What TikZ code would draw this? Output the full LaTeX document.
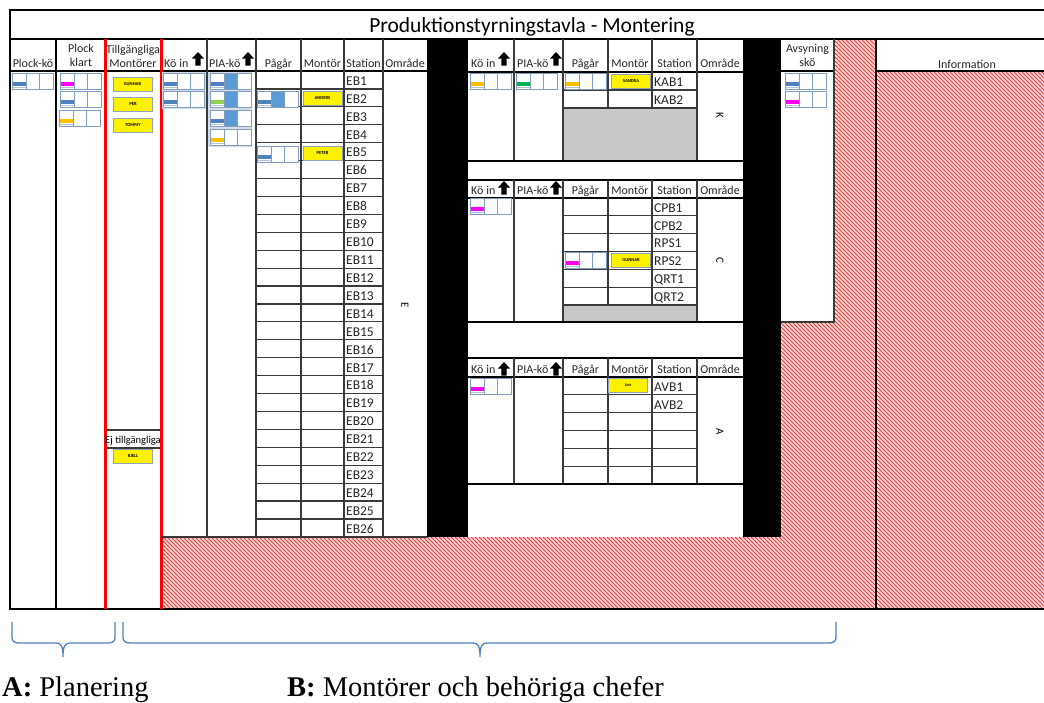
\documentclass[tikz,border=0pt]{standalone}
\usepackage{fontspec}
\newfontfamily\calfont{Carlito}
\newfontfamily\capfont{Liberation Serif}
\usetikzlibrary{patterns}

% fine red diagonal hatching for unused board areas
\pgfdeclarepatternformonly{redhatch}{\pgfqpoint{-1pt}{-1pt}}{\pgfqpoint{5pt}{5pt}}{\pgfqpoint{4pt}{4pt}}{%
  \pgfsetlinewidth{0.85pt}%
  \pgfpathmoveto{\pgfqpoint{-0.5pt}{4.5pt}}%
  \pgfpathlineto{\pgfqpoint{4.5pt}{-0.5pt}}%
  \pgfusepath{stroke}}

\definecolor{gridc}{HTML}{3A3A3A}
\definecolor{cardedge}{HTML}{7F9DBD}
\definecolor{cardblue}{HTML}{4F81BD}
\definecolor{midblue}{HTML}{5B9BD5}
\definecolor{barmag}{HTML}{FF00FF}
\definecolor{barorange}{HTML}{FFC000}
\definecolor{barlgreen}{HTML}{92D050}
\definecolor{bardgreen}{HTML}{00B050}
\definecolor{tagedge}{HTML}{8FA3B8}
\definecolor{greyarea}{HTML}{C8C8C8}
\definecolor{hatchbg}{HTML}{FFE2E2}
\definecolor{hatchred}{HTML}{F53A3A}
\definecolor{stackbg}{HTML}{D5DEE8}
\definecolor{bracec}{HTML}{4F81BD}

% queue card: x, y (top left), bar colour, middle cell fill
\newcommand\qcard[4]{%
  \fill[white] (#1,#2) rectangle (#1+41,#2+16);
  \fill[#4] (#1+14,#2) rectangle (#1+27,#2+16);
  \fill[#3] (#1+1,#2+8.5) rectangle (#1+14,#2+12.5);
  \draw[cardedge!60, line width=0.6] (#1+1,#2+14) -- (#1+14,#2+14);
  \draw[cardedge, line width=0.9] (#1,#2) rectangle (#1+41,#2+16)
    (#1+14,#2) -- (#1+14,#2+16) (#1+27,#2) -- (#1+27,#2+16);
}
% black block arrow: centre x, top y
\newcommand\uparr[2]{%
  \fill[black] (#1,#2) -- (#1+6,#2+6.5) -- (#1+2.6,#2+6.5) -- (#1+2.6,#2+13.5)
    -- (#1-2.6,#2+13.5) -- (#1-2.6,#2+6.5) -- (#1-6,#2+6.5) -- cycle;
}

\begin{document}
\begin{tikzpicture}[x=1pt,y=-1pt,
  grid/.style={draw=gridc, line width=1.2},
  heavy/.style={draw=black, line width=1.7},
  frame/.style={draw=black, line width=2.2},
  hatch/.style={fill=hatchbg, postaction={pattern=redhatch, pattern color=hatchred}},
  hdr/.style={font=\calfont\fontsize{12}{13}\selectfont, inner sep=0, anchor=base, text=black!85},
  hdrw/.style={hdr, anchor=base west},
  eb/.style={font=\calfont\fontsize{13.5}{14}\selectfont, inner sep=0, anchor=base west, text=black!85},
  area/.style={font=\calfont\fontsize{11}{12}\selectfont, inner sep=0, rotate=-90},
  tag/.style={draw=tagedge, fill=yellow, line width=1, minimum width=39pt, minimum height=14pt,
    inner sep=0, font=\calfont\fontsize{4.6}{5}\selectfont\bfseries},
  brace/.style={draw=bracec, line width=1.3},
  caption/.style={font=\capfont\fontsize{28.5}{30}\selectfont, inner sep=0, anchor=base west}]

\useasboundingbox (0,0) rectangle (1044,702);
\clip (0,0) rectangle (1044,702);

% ---- hatched unused areas
\path[hatch] (161,537) -- (781,537) -- (781,322) -- (834,322) -- (834,39)
  -- (876,39) -- (876,609) -- (161,609) -- cycle;
\path[hatch] (876,71) rectangle (1050,609);

% ---- black separator bands
\fill[black] (427,39) rectangle (468,537);
\fill[black] (743,39) rectangle (781,537);

% ---- grey unused station slots
\fill[greyarea] (563,108) rectangle (697,161);
\fill[greyarea] (563,305) rectangle (697,322);

% ---- outer frame and title row
\draw[frame] (1050,10) -- (10,10) -- (10,609) -- (1050,609);
\draw[frame] (10,39) -- (1050,39);
\node[font=\calfont\fontsize{21.5}{23}\selectfont, inner sep=0, anchor=base] (title) at (532,32)
  {Produktionstyrningstavla - Montering};

% ---- left planning columns
\draw[heavy] (10,71) -- (427,71);
\draw[draw=black, line width=1.2] (56,39) -- (56,609);
\draw[grid] (105,430) -- (161,430) (105,448) -- (161,448);
\draw[red, line width=3] (105,39) -- (105,609) (161,39) -- (161,609);

% ---- main EB table
\draw[grid] (207,39) -- (207,537) (256,39) -- (256,537) (301,39) -- (301,537)
  (344,39) -- (344,537) (383,39) -- (383,537) (161,537) -- (427,537);
\foreach \i in {1,...,25}
  \draw[grid] (256,{71+\i*17.92}) -- (383,{71+\i*17.92});
\foreach \i in {1,...,26}
  \node[eb] (eb\i) at (346,{71+(\i-1)*17.92+14.3}) {EB\i};

% ---- section K
\draw[heavy] (468,72) -- (743,72);
\draw[grid] (514,39) -- (514,161) (563,39) -- (563,161) (608,39) -- (608,108)
  (652,39) -- (652,108) (697,39) -- (697,161);
\draw[grid] (563,90) -- (697,90) (563,108) -- (697,108);
\draw[heavy] (468,161) -- (743,161);
\node[eb] (kab1) at (654,86) {KAB1};
\node[eb] (kab2) at (654,104) {KAB2};

% ---- section C
\draw[heavy] (468,180) -- (743,180);
\draw[heavy] (468,198) -- (743,198);
\draw[grid] (514,180) -- (514,322) (563,180) -- (563,322) (608,180) -- (608,305)
  (652,180) -- (652,305) (697,180) -- (697,322);
\foreach \i in {1,...,6}
  \draw[grid] (563,{198+\i*17.83}) -- (697,{198+\i*17.83});
\foreach \s [count=\i from 0] in {CPB1,CPB2,RPS1,RPS2,QRT1,QRT2}
  \node[eb] (st\s) at (654,{198+\i*17.83+14.2}) {\s};
\draw[heavy] (468,322) -- (743,322);

% ---- section A
\draw[heavy] (468,358) -- (743,358);
\draw[heavy] (468,377) -- (743,377);
\draw[grid] (514,358) -- (514,484) (563,358) -- (563,484) (608,358) -- (608,484)
  (652,358) -- (652,484) (697,358) -- (697,484);
\foreach \i in {1,...,5}
  \draw[grid] (563,{377+\i*17.83}) -- (697,{377+\i*17.83});
\node[eb] (avb1) at (654,391.2) {AVB1};
\node[eb] (avb2) at (654,409) {AVB2};
\draw[heavy] (468,484) -- (743,484);

% ---- inspection queue and information columns
\draw[heavy] (781,71) -- (834,71);
\draw[grid] (834,39) -- (834,322) -- (781,322);
\draw[heavy] (876,71) -- (1050,71);
\draw[draw=black, line width=2] (876,39) -- (876,609);

% ---- column headers
\node[hdr] (hplockko) at (33,67) {Plock-kö};
\node[hdr] (hplock1) at (81,52) {Plock};
\node[hdr] (hplock2) at (81,66) {klart};
\node[hdr] (htill1) at (133,53) {Tillgängliga};
\node[hdr] (htill2) at (133,67) {Montörer};
\node[font=\calfont\fontsize{10.5}{11}\selectfont, inner sep=0, anchor=base] (hej) at (133,443) {Ej tillgängliga};
\node[hdr] (havs1) at (807.5,52) {Avsyning};
\node[hdr] (havs2) at (807.5,66) {skö};
\node[hdr] (hinfo) at (967,68) {Information};

\node[hdrw] (hkoin) at (164,67) {Kö in};   \uparr{198}{52}
\node[hdrw] (hpia) at (209,67) {PIA-kö};   \uparr{248}{52}
\node[hdr] (hpag) at (278.5,67) {Pågår};
\node[hdr] (hmon) at (322.5,67) {Montör};
\node[hdr] (hsta) at (363.5,67) {Station};
\node[hdr] (homr) at (405,67) {Område};

\foreach \sec/\yb/\ya in {K/67/52, C/194/181, A/373/362}{
  \node[hdrw] (koin\sec) at (471,\yb) {Kö in};  \uparr{504}{\ya}
  \node[hdrw] (pia\sec) at (517,\yb) {PIA-kö};  \uparr{556}{\ya}
  \node[hdr] (pag\sec) at (585.5,\yb) {Pågår};
  \node[hdr] (mon\sec) at (630,\yb) {Montör};
  \node[hdr] (sta\sec) at (674.5,\yb) {Station};
  \node[hdr] (omr\sec) at (720,\yb) {Område};
}

% ---- area letters
\node[area] (areaE) at (405,305) {E};
\node[area] (areaK) at (720,115) {K};
\node[area] (areaC) at (720,260) {C};
\node[area] (areaA) at (720,432) {A};

% ---- queue cards
\fill[stackbg] (161.5,72) rectangle (206,109);
\fill[stackbg] (208,72) rectangle (252,147);
\qcard{12}{73}{cardblue}{white}
\qcard{60}{73}{barmag}{white}
\qcard{60}{91}{cardblue}{white}
\qcard{59}{110}{barorange}{white}
\qcard{163}{73}{cardblue}{white}
\qcard{163}{91}{cardblue}{white}
\qcard{210}{73}{cardblue}{midblue}
\qcard{210}{91}{barlgreen}{midblue}
\qcard{210}{110}{cardblue}{midblue}
\qcard{210}{129}{barorange}{white}
\qcard{257}{91}{cardblue}{midblue}
\qcard{257}{146}{cardblue}{white}
\qcard{470}{73}{barorange}{white}
\qcard{516}{73}{bardgreen}{white}
\qcard{565}{73}{barorange}{white}
\qcard{470}{198}{barmag}{white}
\qcard{565}{252}{barmag}{white}
\qcard{470}{378}{barmag}{white}
\qcard{785}{73}{cardblue}{white}
\qcard{785}{91}{barmag}{white}

% ---- name tags
\node[tag] (tgunnar) at (132.5,84) {GUNNAR};
\node[tag] (tper) at (133,104) {PER};
\node[tag] (ttommy) at (133,125) {TOMMY};
\node[tag] (tkjell) at (133,456) {KJELL};
\node[tag] (tanders) at (322.5,98.5) {ANDERS};
\node[tag] (tpeter) at (322.5,153.5) {PETER};
\node[tag] (tsandra) at (631,81) {SANDRA};
\node[tag] (tgunnarc) at (631,260.5) {GUNNAR};
\node[tag] (tjan) at (628,385) {Jan};

% ---- braces and captions
\coordinate (braceAtip) at (63,657);
\coordinate (braceBtip) at (480,657);
\draw[brace] (12,622) -- (12,637) .. controls (12,641) and (14,643) .. (19,643) -- (56,643)
  .. controls (61,643) and (63,646) .. (braceAtip)
  .. controls (63,646) and (65,643) .. (70,643) -- (108,643)
  .. controls (113,643) and (115,641) .. (115,637) -- (115,622);
\draw[brace] (123,622) -- (123,637) .. controls (123,641) and (125,643) .. (130,643) -- (473,643)
  .. controls (478,643) and (480,646) .. (braceBtip)
  .. controls (480,646) and (482,643) .. (487,643) -- (829,643)
  .. controls (834,643) and (836,641) .. (836,637) -- (836,622);
\node[caption] (capA) at (2,696) {\textbf{A:} Planering};
\node[caption] (capB) at (287,696) {\textbf{B:} Montörer och behöriga chefer};
\end{tikzpicture}
\end{document}
